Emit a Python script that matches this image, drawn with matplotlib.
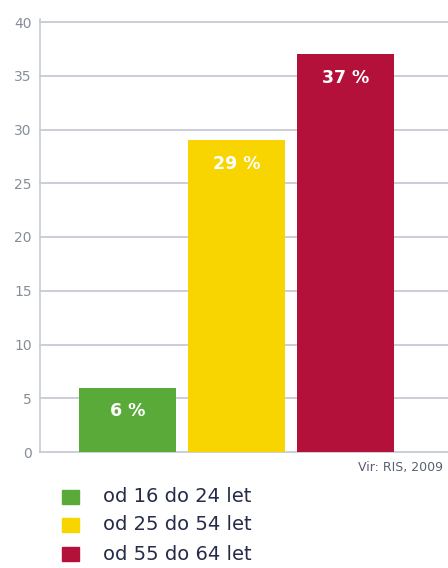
import matplotlib
matplotlib.use("Agg")
import matplotlib.pyplot as plt
from matplotlib.patches import Rectangle

categories = ["od 16 do 24 let", "od 25 do 54 let", "od 55 do 64 let"]
values = [6, 29, 37]
bar_labels = ["6 %", "29 %", "37 %"]
colors = ["#5aaa3a", "#f8d400", "#b3103a"]
yticks = [0, 5, 10, 15, 20, 25, 30, 35, 40]
source = "Vir: RIS, 2009"

W, H = 448, 568
fig = plt.figure(figsize=(W / 100, H / 100), dpi=100)
ax = fig.add_axes([40 / W, (H - 452) / H, (W - 40) / W, (452 - 22) / H])

x = list(range(len(values)))
bars = ax.bar(x, values, width=0.89, color=colors, zorder=3)
ax.set_xlim(-0.80, 2.94)
ax.set_ylim(0, 40)
ax.set_yticks(yticks)
ax.set_xticks([])
ax.grid(axis="y", color="#c6ccd4", linewidth=1.3, zorder=0)
for gl in ax.get_ygridlines():
    gl.set_clip_on(False)
ax.tick_params(axis="y", length=0, pad=6, labelsize=10, labelcolor="#878e98")
for s in ["top", "right", "bottom"]:
    ax.spines[s].set_visible(False)
ax.spines["left"].set_color("#c6ccd4")
ax.spines["left"].set_linewidth(1.2)
ax.spines["left"].set_bounds(0, 40.3)

for xi, v, lab in zip(x, values, bar_labels):
    ax.annotate(lab, (xi, v), xytext=(0, -17), textcoords="offset points",
                ha="center", va="center", color="white", fontsize=12.5,
                fontweight="bold", zorder=4)

fig.text(358 / W, 1 - 467 / H, source, ha="left", va="center", fontsize=9,
         color="#5a6070")

ys = [497, 525, 554]
for c, lab, yy in zip(colors, categories, ys):
    fig.patches.append(Rectangle((62 / W, 1 - (yy + 7) / H), 17 / W, 14 / H,
                                 transform=fig.transFigure, color=c))
    fig.text(103 / W, 1 - yy / H, lab, ha="left", va="center", fontsize=14,
             color="#262b48")

fig.savefig("out.png", dpi=100)
